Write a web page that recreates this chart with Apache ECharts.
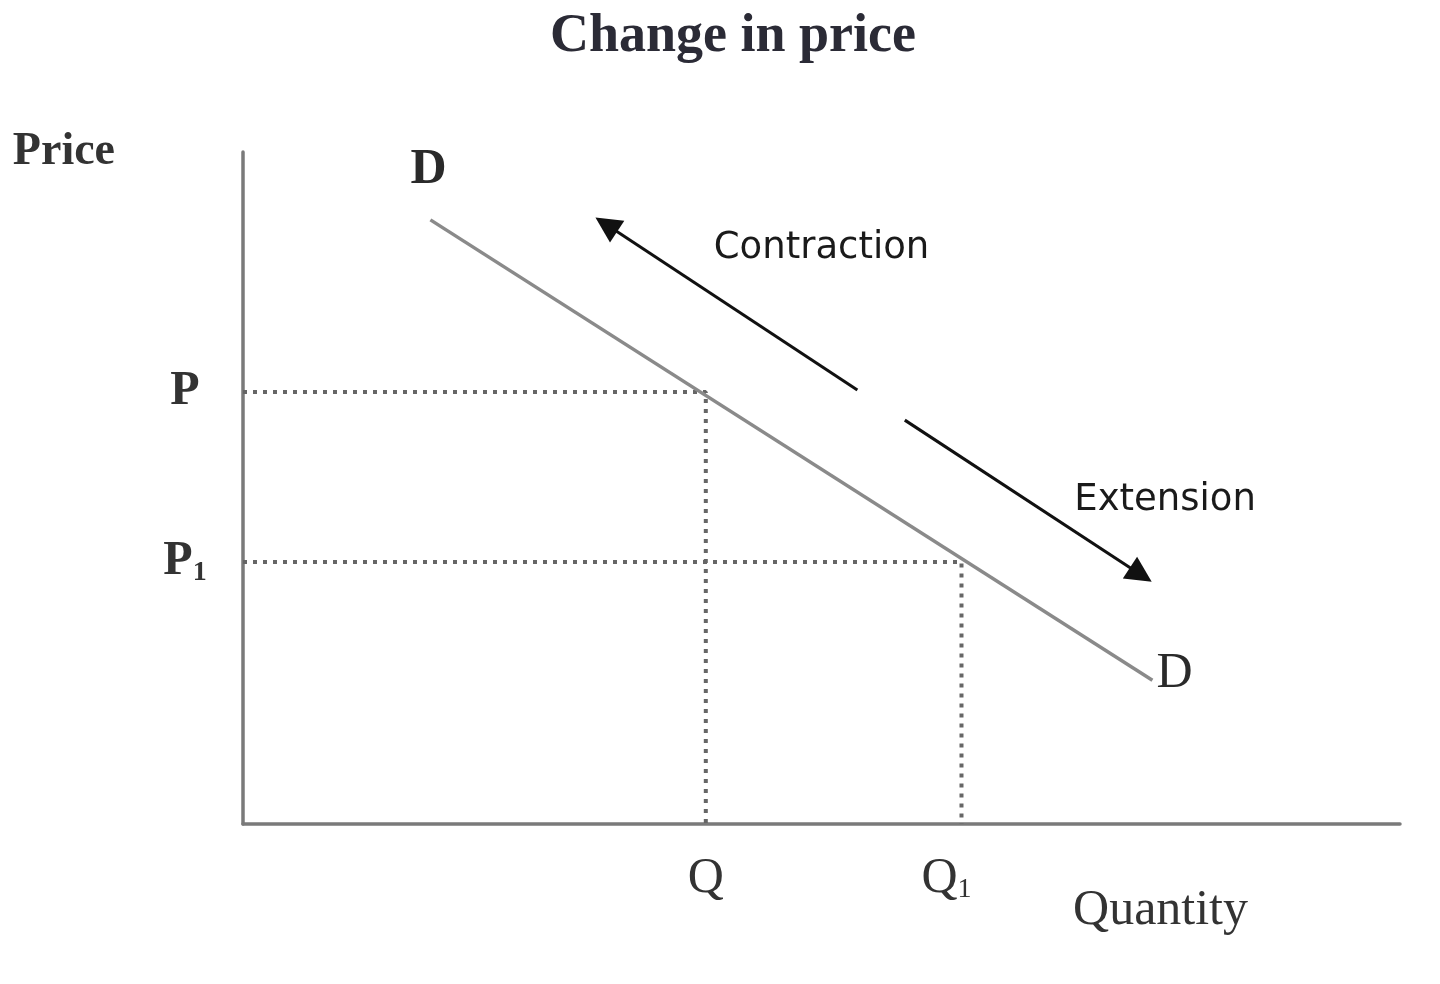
<!DOCTYPE html>
<html>
<head>
<meta charset="utf-8">
<script src="https://cdn.jsdelivr.net/npm/echarts@6/dist/echarts.min.js"></script>
<style>html,body{margin:0;padding:0;background:#fff;}#chart{width:1440px;height:984px;}</style>
</head>
<body>
<div id="chart"></div>
<script>
// ---- data (chart units 0..100) ----
const titleText = 'Change in price';
const xAxisName = 'Quantity';
const yAxisName = 'Price';
const priceTicks = [64.3, 39.0];           // P, P1
const priceTickLabels = ['P', 'P{ysub|1}'];
const qtyTicks = [40.0, 62.1];             // Q, Q1
const qtyTickLabels = ['Q', 'Q{xsub|1}'];
const demandPoints = [[16.2, 89.9], [78.6, 21.4]];
const demandLabels = ['D', 'D'];
const contractionArrow = [[53.1, 64.6], [31.4, 89.2]];
const extensionArrow = [[57.2, 60.1], [77.6, 37.1]];
const annotationNames = ['Contraction', 'Extension'];
const annotationPos = [[50.0, 85.6], [79.7, 48.2]];

const chart = echarts.init(document.getElementById('chart'));
const serif = '"Liberation Serif", "DejaVu Serif", serif';
const guideStyle = { color: '#666666', width: 4, type: [4, 6] };

const guideSeries = priceTicks.map((p, i) => ({
  type: 'line', silent: true, symbol: 'none', z: 2,
  lineStyle: guideStyle,
  data: [[0, p], [qtyTicks[i], p], [qtyTicks[i], 0]]
}));

chart.setOption({
  animation: false,
  backgroundColor: '#ffffff',
  title: {
    text: titleText, left: 728, top: 5, textAlign: 'center',
    textStyle: { fontFamily: serif, fontWeight: 'bold', fontSize: 54, color: '#2b2b36' }
  },
  grid: { left: 243, right: 40, top: 152, bottom: 160 },
  xAxis: {
    type: 'value', min: 0, max: 100,
    name: xAxisName, nameLocation: 'end', nameGap: 0,
    nameTextStyle: { fontFamily: serif, fontSize: 50, color: '#333', align: 'right', verticalAlign: 'top', padding: [62, 152, 0, 0] },
    axisLine: { show: true, lineStyle: { color: '#7a7a7a', width: 3.5 } },
    axisTick: { show: false },
    splitLine: { show: false },
    axisLabel: {
      customValues: qtyTicks, margin: 30,
      formatter: (v) => qtyTickLabels[qtyTicks.indexOf(v)] || '',
      fontFamily: serif, fontSize: 50, color: '#333',
      rich: { xsub: { fontFamily: serif, fontSize: 28, color: '#333', padding: [22, 30, 0, 0] } }
    }
  },
  yAxis: {
    type: 'value', min: 0, max: 100,
    name: yAxisName, nameLocation: 'end', nameGap: 0,
    nameTextStyle: { fontFamily: serif, fontWeight: 'bold', fontSize: 46, color: '#333', align: 'right', verticalAlign: 'middle', padding: [0, 128, 0, 0] },
    axisLine: { show: true, lineStyle: { color: '#7a7a7a', width: 3.5 } },
    axisTick: { show: false },
    splitLine: { show: false },
    axisLabel: {
      customValues: priceTicks, margin: 58, align: 'center',
      formatter: (v) => priceTickLabels[priceTicks.indexOf(v)] || '',
      fontFamily: serif, fontWeight: 'bold', fontSize: 48, color: '#333',
      rich: { ysub: { fontFamily: serif, fontWeight: 'bold', fontSize: 28, color: '#333', padding: [22, 0, 0, 0] } }
    }
  },
  series: [
    ...guideSeries,
    {
      type: 'line', silent: true, symbol: 'none', z: 3,
      lineStyle: { color: '#8a8a8a', width: 3.5 },
      data: demandPoints
    },
    {
      type: 'scatter', silent: true, symbolSize: 0, z: 5,
      itemStyle: { opacity: 1 },
      data: demandPoints.map((p, i) => ({
        value: p,
        label: {
          show: true, formatter: demandLabels[i], opacity: 1,
          position: i === 0 ? 'top' : 'right',
          distance: i === 0 ? 25 : 2,
          offset: i === 0 ? [-2, 0] : [2, -6],
          fontFamily: serif, fontSize: 50, fontWeight: i === 0 ? 'bold' : 'normal', color: '#2a2a2a'
        }
      }))
    },
    {
      type: 'lines', coordinateSystem: 'cartesian2d', silent: true, z: 4,
      symbol: ['none', 'triangle'], symbolSize: [0, 26],
      lineStyle: { color: '#111', width: 3, opacity: 1 },
      data: [{ coords: contractionArrow }, { coords: extensionArrow }]
    },
    {
      type: 'scatter', silent: true, symbolSize: 0, z: 5,
      itemStyle: { opacity: 1 },
      data: annotationPos.map((p, i) => ({
        value: p,
        label: {
          show: true, position: 'inside', formatter: annotationNames[i], opacity: 1,
          fontFamily: '"DejaVu Sans", sans-serif', fontSize: 37, color: '#1a1a1a'
        }
      }))
    }
  ]
});
</script>
</body>
</html>
